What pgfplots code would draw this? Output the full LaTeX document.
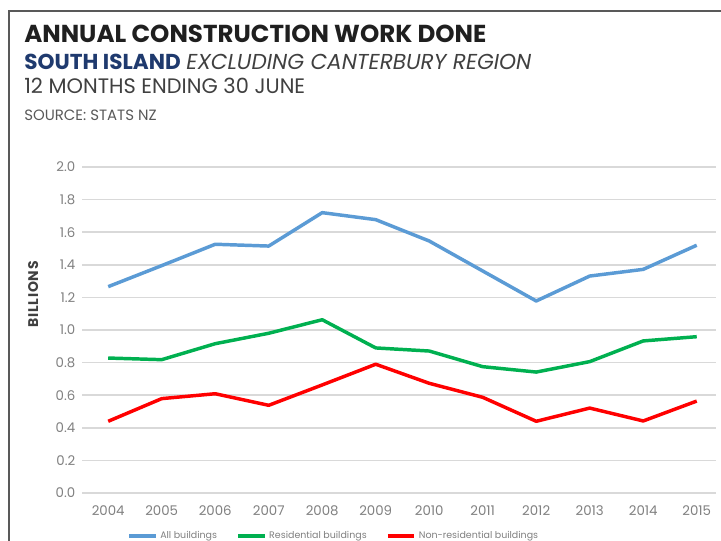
\documentclass[border=0pt]{standalone}
\usepackage{pgfplots}
\pgfplotsset{compat=1.18}
\usepackage{fontspec}
\setmainfont{Poppins}
\definecolor{allb}{HTML}{5B9BD5}
\definecolor{resb}{HTML}{00B050}
\definecolor{nonb}{HTML}{FF0000}
\definecolor{navy}{HTML}{1F3A6E}
\definecolor{gridc}{HTML}{D9D9D9}
\definecolor{tickc}{HTML}{808080}
\definecolor{framec}{HTML}{595959}
\begin{document}
\begin{tikzpicture}[x=0.75pt,y=0.75pt]
\useasboundingbox (0,0) rectangle (721,540);
\draw[framec, line width=1.1pt] (9,-5) -- (9,529) -- (730,529);
\node[anchor=base west, inner sep=0, font=\bfseries\fontsize{18.4}{22}\selectfont, text=black!88] at (24,497) {ANNUAL CONSTRUCTION WORK DONE};
\node[anchor=base west, inner sep=0, font=\fontsize{16.2}{19}\selectfont] at (24,470) {\textcolor{navy}{\bfseries SOUTH ISLAND} \textcolor{black!75}{\itshape EXCLUDING CANTERBURY REGION}};
\node[anchor=base west, inner sep=0, font=\fontsize{15.7}{18}\selectfont, text=black!75] at (24,446) {12 MONTHS ENDING 30 JUNE};
\node[anchor=base west, inner sep=0, font=\fontsize{11.2}{13}\selectfont, text=black!65] at (24,419) {SOURCE: STATS NZ};
\coordinate (A) at (82,47);
\begin{axis}[
  at={(A)}, anchor=south west,
  scale only axis, width=475.5pt, height=244.5pt,
  xmin=2003.51, xmax=2015.36, ymin=0, ymax=2.0,
  axis line style={draw=none},
  tick style={draw=none},
  ytick={0,0.2,...,2.0},
  xtick={2004,...,2015},
  x tick label style={/pgf/number format/1000 sep={}, font=\fontsize{10}{12}\selectfont, text=tickc, yshift=-6pt},
  y tick label style={/pgf/number format/.cd, fixed, fixed zerofill, precision=1, /tikz/.cd, font=\fontsize{10}{12}\selectfont, text=tickc, xshift=-1.5pt},
  /pgf/number format/assume math mode=true,
  ymajorgrids, grid style={gridc, line width=1.1pt},
  ylabel={\textbf{\addfontfeature{LetterSpace=6}BILLIONS}},
  ylabel style={font=\fontsize{10.5}{12}\selectfont, text=black!75, at={(axis description cs:-0.077,0.61)}, anchor=center},
  legend style={at={(0.0713,-0.132)}, anchor=west, draw=none, fill=none, legend columns=-1, inner sep=0pt, font=\fontsize{7.1}{9}\selectfont, text=tickc, /tikz/every even column/.append style={column sep=12.5pt}, /tikz/every odd column/.append style={column sep=0pt}},
  legend image code/.code={\draw[#1, line width=2.6pt] (0pt,0pt) -- (20pt,0pt);},
  every axis plot/.append style={line width=2.6pt, line join=round},
]
\addplot[allb] coordinates {(2004,1.266) (2005,1.395) (2006,1.526) (2007,1.515) (2008,1.72) (2009,1.677) (2010,1.546) (2011,1.362) (2012,1.178) (2013,1.331) (2014,1.372) (2015,1.52)};
\addlegendentry{All buildings}
\addplot[resb] coordinates {(2004,0.828) (2005,0.818) (2006,0.916) (2007,0.98) (2008,1.063) (2009,0.89) (2010,0.871) (2011,0.775) (2012,0.742) (2013,0.806) (2014,0.933) (2015,0.959)};
\addlegendentry{Residential buildings}
\addplot[nonb] coordinates {(2004,0.44) (2005,0.579) (2006,0.609) (2007,0.538) (2008,0.663) (2009,0.79) (2010,0.673) (2011,0.587) (2012,0.44) (2013,0.521) (2014,0.442) (2015,0.564)};
\addlegendentry{Non-residential buildings}
\end{axis}
\end{tikzpicture}
\end{document}
